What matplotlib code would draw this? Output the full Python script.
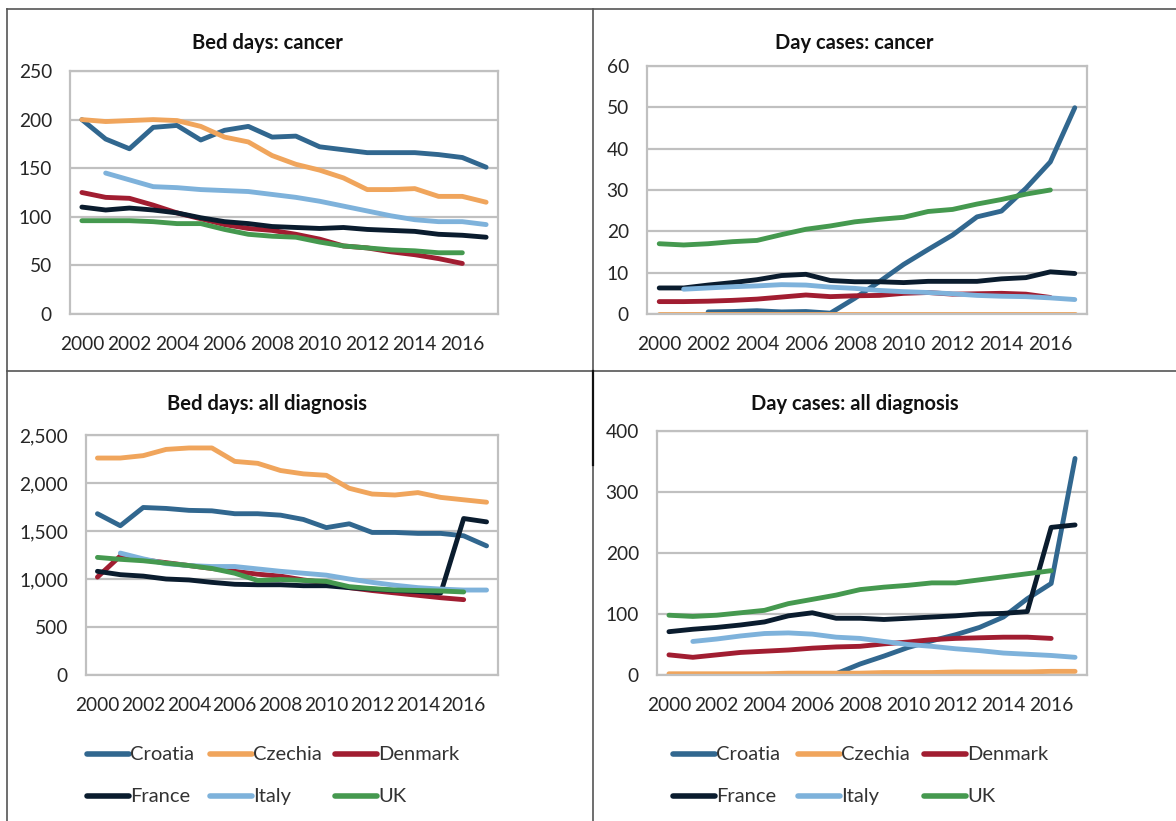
import numpy as np
import matplotlib
matplotlib.use("Agg")
import matplotlib.pyplot as plt
from matplotlib.lines import Line2D
from matplotlib.ticker import FuncFormatter

plt.rcParams['font.family'] = ['Lato', 'DejaVu Sans']

years = list(range(2000, 2018))
countries = ["Croatia", "Czechia", "Denmark", "France", "Italy", "UK"]
colors = {"Croatia": "#31678F", "Czechia": "#F0A55C", "Denmark": "#A11D31",
          "France": "#0A1C2E", "Italy": "#7EB2DB", "UK": "#45994F"}
N = np.nan

# Bed days: cancer (2000..2017)
bed_cancer_croatia = [200, 180, 170, 192, 194, 179, 189, 193, 182, 183, 172, 169, 166, 166, 166, 164, 161, 151]
bed_cancer_czechia = [200, 198, 199, 200, 199, 193, 182, 177, 163, 154, 148, 140, 128, 128, 129, 121, 121, 115]
bed_cancer_denmark = [125, 120, 119, 112, 104, 98, 92, 88, 86, 82, 77, 70, 68, 64, 61, 57, 52, N]
bed_cancer_france = [110, 107, 109, 107, 104, 99, 95, 93, 90, 89, 88, 89, 87, 86, 85, 82, 81, 79]
bed_cancer_italy = [N, 145, 138, 131, 130, 128, 127, 126, 123, 120, 116, 111, 106, 101, 97, 95, 95, 92]
bed_cancer_uk = [96, 96, 96, 95, 93, 93, 87, 82, 80, 79, 74, 70, 68, 66, 65, 63, 63, N]

# Day cases: cancer
day_cancer_croatia = [N, N, 0.5, 0.6, 0.8, 0.5, 0.6, 0.2, 3.8, 7.8, 12, 15.6, 19.1, 23.5, 24.9, 30.4, 36.8, 49.9]
day_cancer_czechia = [0.1] * 18
day_cancer_denmark = [3.0, 3.0, 3.1, 3.3, 3.6, 4.1, 4.6, 4.2, 4.4, 4.5, 5.0, 5.2, 4.8, 4.9, 5.0, 4.8, 4.0, N]
day_cancer_france = [6.3, 6.3, 7.0, 7.6, 8.3, 9.3, 9.6, 8.1, 7.8, 7.8, 7.6, 7.9, 7.9, 7.9, 8.5, 8.8, 10.2, 9.8]
day_cancer_italy = [N, 6.0, 6.3, 6.6, 6.8, 7.1, 7.0, 6.5, 6.2, 5.7, 5.4, 5.2, 4.9, 4.5, 4.3, 4.2, 3.9, 3.5]
day_cancer_uk = [17, 16.7, 17, 17.5, 17.8, 19.2, 20.5, 21.3, 22.3, 22.9, 23.4, 24.8, 25.3, 26.6, 27.7, 29, 30, N]

# Bed days: all diagnosis
bed_all_croatia = [1680, 1555, 1745, 1735, 1715, 1710, 1680, 1680, 1665, 1620, 1535, 1575, 1485, 1485, 1475, 1475, 1450, 1345]
bed_all_czechia = [2260, 2260, 2285, 2350, 2365, 2365, 2225, 2205, 2130, 2095, 2080, 1945, 1885, 1875, 1900, 1850, 1825, 1800]
bed_all_denmark = [1020, 1240, 1200, 1170, 1140, 1110, 1080, 1050, 1030, 990, 960, 910, 880, 855, 830, 805, 785, N]
bed_all_france = [1080, 1045, 1030, 1000, 990, 965, 945, 940, 940, 930, 930, 910, 895, 880, 870, 855, 1630, 1595]
bed_all_italy = [N, 1270, 1210, 1160, 1140, 1130, 1130, 1105, 1080, 1060, 1040, 1000, 965, 935, 910, 895, 885, 885]
bed_all_uk = [1225, 1205, 1190, 1165, 1140, 1110, 1060, 985, 995, 985, 975, 920, 900, 885, 880, 875, 865, N]

# Day cases: all diagnosis
day_all_croatia = [N, N, N, N, N, 1, 0, 2, 18, 31, 45, 56, 66, 78, 95, 125, 150, 355]
day_all_czechia = [2, 2, 2, 2, 2, 3, 3, 3, 3, 4, 4, 4, 5, 5, 5, 5, 6, 6]
day_all_denmark = [33, 29, 33, 37, 39, 41, 44, 46, 47, 51, 54, 58, 60, 61, 62, 62, 60, N]
day_all_france = [71, 75, 78, 82, 87, 97, 102, 93, 93, 91, 93, 95, 97, 100, 101, 104, 242, 246]
day_all_italy = [N, 55, 59, 64, 68, 69, 67, 62, 60, 55, 50, 47, 43, 40, 36, 34, 32, 29]
day_all_uk = [98, 96, 98, 102, 106, 117, 124, 131, 140, 144, 147, 151, 151, 156, 161, 166, 171, N]

panels = [
    dict(title="Bed days: cancer", ymax=250, step=50, comma=False,
         series=[bed_cancer_croatia, bed_cancer_czechia, bed_cancer_denmark, bed_cancer_france, bed_cancer_italy, bed_cancer_uk],
         rect=[70, 71, 498, 314], title_xy=(267, 43)),
    dict(title="Day cases: cancer", ymax=60, step=10, comma=False,
         series=[day_cancer_croatia, day_cancer_czechia, day_cancer_denmark, day_cancer_france, day_cancer_italy, day_cancer_uk],
         rect=[647, 66, 1087, 314], title_xy=(854, 43)),
    dict(title="Bed days: all diagnosis", ymax=2500, step=500, comma=True,
         series=[bed_all_croatia, bed_all_czechia, bed_all_denmark, bed_all_france, bed_all_italy, bed_all_uk],
         rect=[86, 435, 498, 675], title_xy=(267, 404)),
    dict(title="Day cases: all diagnosis", ymax=400, step=100, comma=False,
         series=[day_all_croatia, day_all_czechia, day_all_denmark, day_all_france, day_all_italy, day_all_uk],
         rect=[657, 431, 1087, 675], title_xy=(855, 404)),
]

W, H = 1176, 821
fig = plt.figure(figsize=(W / 100, H / 100), dpi=100)
grid_c = "#C0C0C0"
txt_c = "#262626"
x = np.arange(len(years))

for p in panels:
    x0, y0, x1, y1 = p["rect"]
    ax = fig.add_axes([x0 / W, 1 - y1 / H, (x1 - x0) / W, (y1 - y0) / H])
    for name, vals in zip(countries, p["series"]):
        ax.plot(x, np.array(vals, dtype=float), color=colors[name], lw=3.5,
                solid_capstyle="round", solid_joinstyle="round")
    ax.set_xlim(-0.5, len(years) - 0.5)
    ax.set_ylim(0, p["ymax"])
    ax.set_yticks(np.arange(0, p["ymax"] + 1, p["step"]))
    ax.set_xticks(x[::2])
    ax.set_xticklabels([str(y) for y in years[::2]])
    if p["comma"]:
        ax.yaxis.set_major_formatter(FuncFormatter(lambda v, _: f"{int(v):,}"))
    ax.grid(axis="y", color=grid_c, lw=1.6)
    ax.set_axisbelow(True)
    for s in ax.spines.values():
        s.set_color(grid_c)
        s.set_linewidth(1.6)
    ax.tick_params(axis="both", length=0, labelsize=13.8, colors=txt_c)
    ax.tick_params(axis="x", pad=16)
    ax.tick_params(axis="y", pad=13)
    tx, ty = p["title_xy"]
    fig.text(tx / W, 1 - ty / H, p["title"], ha="center", va="center",
             fontsize=14.5, fontweight="bold", color="#111111")

# legends for bottom panels (manual, figure coordinates)
def legend(x_cols, y_rows):
    k = 0
    for r, yy in enumerate(y_rows):
        for c, xx in enumerate(x_cols):
            name = countries[k]
            k += 1
            fig.add_artist(Line2D([xx / W, (xx + 42) / W], [1 - yy / H, 1 - yy / H],
                                  color=colors[name], lw=4, solid_capstyle="round"))
            fig.text((xx + 43) / W, 1 - yy / H, name, ha="left", va="center",
                     fontsize=14.5, color="#333333")

legend([87, 210, 335], [754, 796])
legend([673, 798, 924], [754, 796])

# table border lines
bc = "#555555"
fig.add_artist(Line2D([7 / W, 1], [1 - 9 / H, 1 - 9 / H], color=bc, lw=1.2))
fig.add_artist(Line2D([7 / W, 1], [1 - 371 / H, 1 - 371 / H], color=bc, lw=1.2))
fig.add_artist(Line2D([7 / W, 7 / W], [0, 1 - 9 / H], color=bc, lw=1.2))
fig.add_artist(Line2D([593 / W, 593 / W], [0, 1 - 9 / H], color=bc, lw=1.2))
fig.add_artist(Line2D([593 / W, 593 / W], [1 - 465 / H, 1 - 371 / H], color="#111111", lw=1.6))

fig.savefig("out.png", dpi=100)
